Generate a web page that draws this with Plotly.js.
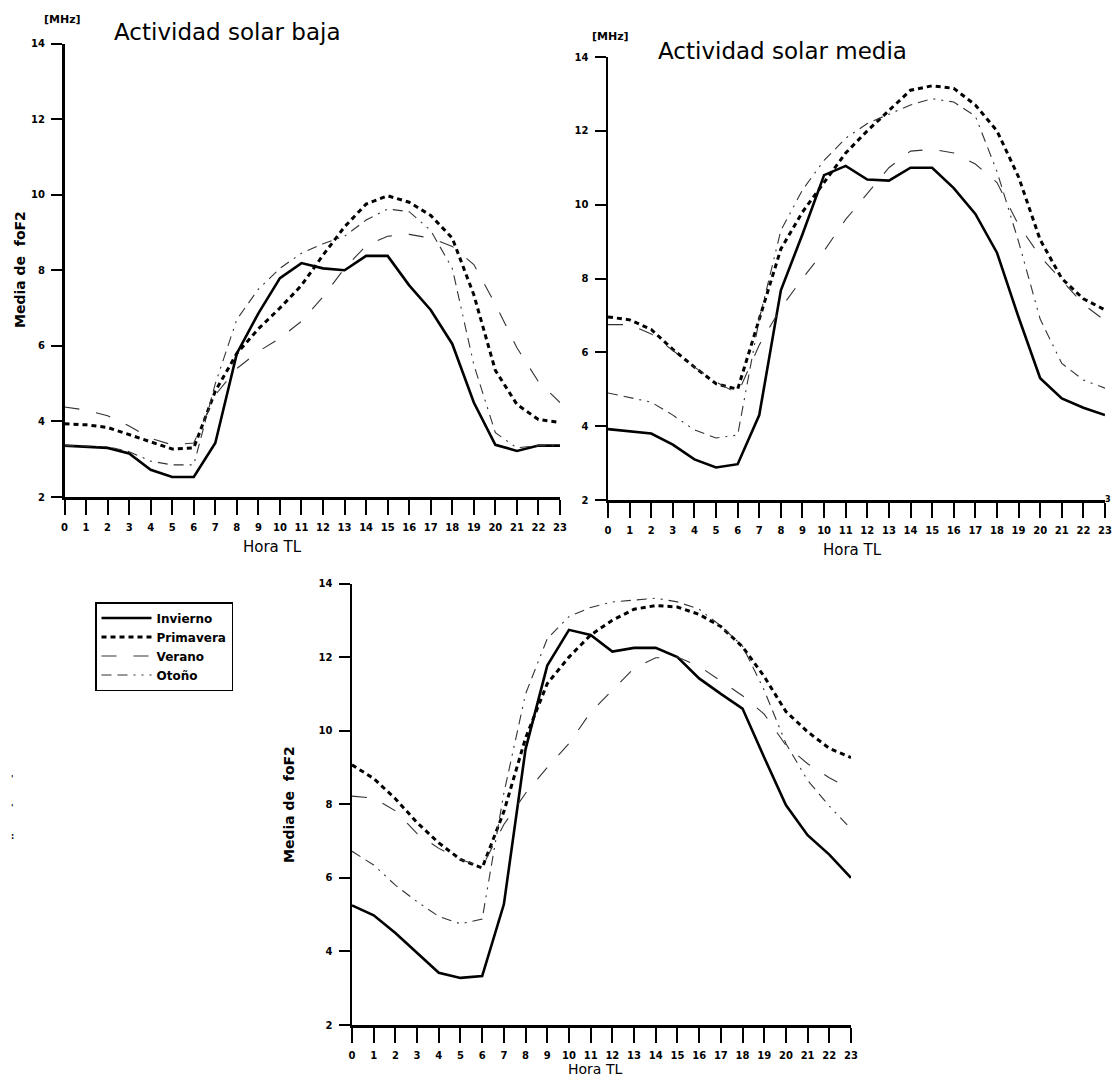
<!DOCTYPE html>
<html>
<head>
<meta charset="utf-8">
<script src="https://cdn.plot.ly/plotly-3.0.1.min.js"></script>
<style>
html,body{margin:0;padding:0;background:#fff;}
#chart{width:1112px;height:1076px;}
</style>
</head>
<body>
<div id="chart"></div>
<script>
// ---- data ----
const hours = [0,1,2,3,4,5,6,7,8,9,10,11,12,13,14,15,16,17,18,19,20,21,22,23];
const hourLabels = ["0","1","2","3","4","5","6","7","8","9","10","11","12","13","14","15","16","17","18","19","20","21","22","23"];
const yTicks = [2,4,6,8,10,12,14];
const seasons = ["Invierno","Primavera","Verano","Otoño"];

// Actividad solar baja
const bajaInvierno  = [3.36,3.32,3.30,3.15,2.72,2.53,2.53,3.43,5.80,6.86,7.79,8.19,8.05,8.00,8.38,8.38,7.60,6.95,6.05,4.50,3.38,3.22,3.36,3.36];
const bajaPrimavera = [3.94,3.91,3.84,3.65,3.45,3.27,3.30,4.80,5.80,6.45,7.00,7.60,8.40,9.15,9.75,9.97,9.80,9.45,8.85,7.35,5.35,4.45,4.05,3.97];
const bajaVerano    = [4.38,4.30,4.15,3.88,3.55,3.38,3.43,4.70,5.40,5.85,6.20,6.65,7.30,8.05,8.65,8.90,8.95,8.85,8.63,8.15,7.10,5.95,5.05,4.50];
const bajaOtono     = [3.36,3.34,3.33,3.20,2.95,2.85,2.85,5.00,6.70,7.50,8.05,8.45,8.70,8.90,9.33,9.62,9.55,9.05,8.05,5.50,3.70,3.30,3.36,3.36];

// Actividad solar media
const mediaInvierno  = [3.92,3.87,3.80,3.50,3.10,2.88,2.97,4.30,7.68,9.20,10.80,11.05,10.68,10.65,11.00,11.00,10.45,9.75,8.70,6.95,5.30,4.75,4.50,4.30];
const mediaPrimavera = [6.96,6.88,6.62,6.08,5.60,5.15,5.00,6.90,8.80,9.80,10.60,11.40,12.00,12.55,13.10,13.22,13.15,12.70,12.00,10.75,9.05,8.00,7.45,7.15];
const mediaVerano    = [6.75,6.75,6.50,6.05,5.60,5.20,4.88,6.20,7.20,8.00,8.75,9.60,10.30,11.00,11.45,11.50,11.40,11.10,10.60,9.45,8.60,7.95,7.30,6.86];
const mediaOtono     = [4.90,4.78,4.65,4.30,3.90,3.68,3.76,6.90,9.30,10.40,11.20,11.80,12.20,12.45,12.70,12.87,12.78,12.40,10.90,9.00,6.90,5.70,5.25,5.03];

// Actividad solar alta
const altaInvierno  = [5.25,4.98,4.50,3.95,3.42,3.28,3.33,5.28,9.50,11.77,12.74,12.60,12.15,12.25,12.25,12.00,11.42,11.00,10.60,9.27,7.98,7.16,6.63,6.00];
const altaPrimavera = [9.07,8.70,8.15,7.50,6.95,6.50,6.27,7.80,9.80,11.28,12.00,12.60,13.00,13.30,13.40,13.36,13.16,12.83,12.28,11.47,10.52,9.97,9.52,9.27];
const altaVerano    = [8.22,8.17,7.82,7.20,6.80,6.50,6.30,7.45,8.30,9.00,9.65,10.50,11.10,11.70,11.98,12.00,11.75,11.35,10.95,10.45,9.60,9.10,8.72,8.40];
const altaOtono     = [6.72,6.35,5.80,5.35,4.95,4.75,4.88,8.30,11.00,12.50,13.10,13.35,13.50,13.55,13.60,13.50,13.30,12.85,12.30,11.10,9.65,8.65,7.95,7.33];

// ---- styling ----
const W = 1112, H = 1076;
const px = v => v / W;
const py = v => 1 - v / H;

const lineStyles = [
  {color:'#000', width:2.6, dash:'solid'},
  {color:'#000', width:3, dash:'5px,4px'},
  {color:'#333', width:1.1, dash:'15px,17px'},
  {color:'#333', width:1.1, dash:'10px,6px,10px,6px,2px,6px,2px,6px'}
];

const panels = [
  {xa:'x',  ya:'y',  data:[bajaInvierno,bajaPrimavera,bajaVerano,bajaOtono]},
  {xa:'x2', ya:'y2', data:[mediaInvierno,mediaPrimavera,mediaVerano,mediaOtono]},
  {xa:'x3', ya:'y3', data:[altaInvierno,altaPrimavera,altaVerano,altaOtono]}
];

const traces = [];
panels.forEach((p, pi) => {
  p.data.forEach((vals, si) => {
    traces.push({
      type:'scatter', mode:'lines',
      x: hours, y: vals,
      xaxis: p.xa, yaxis: p.ya,
      name: seasons[si], legendgroup: seasons[si],
      showlegend: pi === 0,
      line: Object.assign({shape:'linear'}, lineStyles[si]),
      hoverinfo:'skip'
    });
  });
});

const tickFont = {family:'DejaVu Sans', size:10, color:'#000', weight:'bold'};

function xAxis(x0, x1, anchor) {
  return {
    domain:[px(x0), px(x1)], range:[0,23], anchor:anchor,
    tickvals:hours, ticktext:hourLabels,
    showline:true, linecolor:'#000', linewidth:2.5,
    ticks:'outside', ticklen:15, tickwidth:2, tickcolor:'#000',
    showgrid:false, zeroline:false, tickfont:tickFont, ticklabelstandoff:4,
    fixedrange:true
  };
}
function yAxis(yTop, yBot, anchor) {
  return {
    domain:[py(yBot), py(yTop)], range:[2,14], anchor:anchor,
    tickvals:yTicks, ticktext:yTicks.map(String),
    showline:true, linecolor:'#000', linewidth:2.5,
    ticks:'outside', ticklen:11, tickwidth:2, tickcolor:'#000',
    showgrid:false, zeroline:false, tickfont:tickFont, ticklabelstandoff:4,
    fixedrange:true
  };
}

const ann = (text, x, y, font, extra) => Object.assign({
  text:text, xref:'paper', yref:'paper', x:px(x), y:py(y),
  xanchor:'center', yanchor:'middle', showarrow:false, font:font
}, extra || {});

const titleFont = {family:'DejaVu Sans', size:23, color:'#000'};
const unitFont = {family:'DejaVu Sans', size:11, color:'#000', weight:'bold'};
const axTitleFont = {family:'DejaVu Sans', size:15, color:'#000'};
const axTitleFont3 = {family:'DejaVu Sans', size:14, color:'#000'};
const yTitleFont = {family:'DejaVu Sans', size:14, color:'#000', weight:'bold'};
const strayFont = {family:'DejaVu Sans', size:8, color:'#000', weight:'bold'};

const layout = {
  width:W, height:H,
  margin:{l:0, r:0, t:0, b:0, pad:0},
  paper_bgcolor:'#fff', plot_bgcolor:'#fff',
  showlegend:true,
  legend:{
    x:px(95), y:py(602), xanchor:'left', yanchor:'top',
    bordercolor:'#000', borderwidth:1.5, bgcolor:'#fff',
    font:{family:'DejaVu Sans', size:12, color:'#000', weight:'bold'},
    tracegroupgap:0, itemwidth:50
  },
  xaxis: xAxis(64.5, 560, 'y'),
  yaxis: yAxis(43.5, 497, 'x'),
  xaxis2: xAxis(608, 1105, 'y2'),
  yaxis2: yAxis(57, 500, 'x2'),
  xaxis3: xAxis(352, 851, 'y3'),
  yaxis3: yAxis(583.5, 1025, 'x3'),
  annotations:[
    ann('Actividad solar baja', 112, 32, titleFont, {xanchor:'left'}),
    ann('Actividad solar media', 656, 51, titleFont, {xanchor:'left'}),
    ann('[MHz]', 62, 20, unitFont),
    ann('[MHz]', 610, 36, unitFont),
    ann('Media de\u00a0 foF2', 20, 270, yTitleFont, {textangle:-90}),
    ann('Media de\u00a0 foF2', 289, 805, yTitleFont, {textangle:-90}),
    ann('Hora TL', 272, 547, axTitleFont),
    ann('Hora TL', 852, 550, axTitleFont),
    ann('Hora TL', 595, 1069, axTitleFont3),
    ann('3', 1108, 499, strayFont),
    ann("'", 12, 779, strayFont),
    ann("'", 12, 808, strayFont),
    ann(':', 12, 836, strayFont)
  ]
};

Plotly.newPlot('chart', traces, layout, {staticPlot:true, displayModeBar:false});
</script>
</body>
</html>
